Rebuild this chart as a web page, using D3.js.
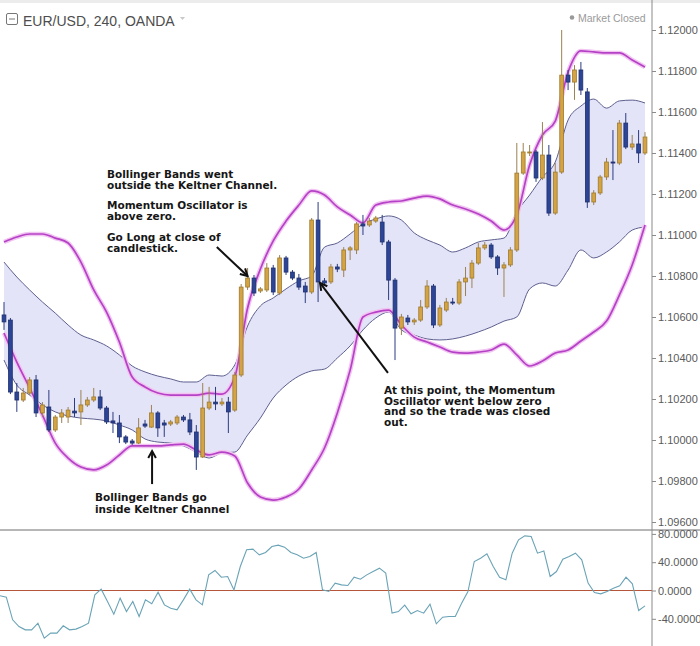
<!DOCTYPE html>
<html><head><meta charset="utf-8">
<script src="https://cdn.jsdelivr.net/npm/d3@7"></script>
<style>body{margin:0;background:#fff}svg{display:block}</style>
</head><body>
<svg id="c" width="700" height="646"></svg>
<script>
// ---- DATA (EUR/USD 240, OANDA) ----
const open = [1.10610,1.10585,1.10234,1.10195,1.10229,1.10293,1.10132,1.10161,1.10049,1.10112,
1.10112,1.10141,1.10137,1.10171,1.10195,1.10210,1.10156,1.10093,1.10083,1.10015,
1.09995,1.09985,1.10078,1.10063,1.10132,1.10083,1.10078,1.10083,1.10112,1.10098,
1.10039,1.09917,1.10156,1.10185,1.10176,1.10185,1.10146,1.10317,1.10746,1.10790,
1.10727,1.10732,1.10839,1.10717,1.10888,1.10819,1.10790,1.10751,1.10722,1.11073,
1.10776,1.10771,1.10844,1.10829,1.10927,1.10927,1.11054,1.11049,1.11068,1.11063,
1.10966,1.10780,1.10546,1.10595,1.10576,1.10585,1.10649,1.10751,1.10561,1.10634,
1.10673,1.10668,1.10771,1.10790,1.10863,1.10937,1.10951,1.10893,1.10839,1.10854,
1.10927,1.11302,1.11400,1.11405,1.11278,1.11390,1.11107,1.11307,1.11780,1.11746,
1.11805,1.11698,1.11161,1.11205,1.11283,1.11356,1.11351,1.11546,1.11429,1.11444,
1.11400];
const high = [1.10673,1.10595,1.10278,1.10254,1.10307,1.10317,1.10185,1.10244,1.10122,1.10151,
1.10161,1.10205,1.10244,1.10210,1.10254,1.10244,1.10166,1.10137,1.10122,1.10024,
1.10005,1.10107,1.10098,1.10171,1.10141,1.10098,1.10098,1.10122,1.10122,1.10132,
1.10073,1.10278,1.10259,1.10259,1.10205,1.10210,1.10332,1.10761,1.10839,1.10805,
1.10746,1.10863,1.10854,1.10902,1.10898,1.10829,1.10810,1.10771,1.11083,1.11161,
1.10790,1.10859,1.10859,1.10941,1.10946,1.11063,1.11098,1.11083,1.11093,1.11098,
1.10976,1.10790,1.10615,1.10610,1.10595,1.10683,1.10780,1.10761,1.10659,1.10693,
1.10693,1.10785,1.10844,1.10878,1.10961,1.10966,1.10961,1.10902,1.10868,1.10941,
1.11449,1.11449,1.11439,1.11415,1.11551,1.11439,1.11351,1.12000,1.11805,1.11829,
1.11844,1.11717,1.11219,1.11293,1.11376,1.11512,1.11561,1.11595,1.11488,1.11512,
1.11502];
const low = [1.10537,1.10224,1.10137,1.10185,1.10219,1.10112,1.10112,1.10039,1.10039,1.10083,
1.10083,1.10112,1.10073,1.10161,1.10185,1.10146,1.10078,1.10034,1.09985,1.09980,
1.09976,1.09980,1.10059,1.10059,1.10015,1.10015,1.10068,1.10073,1.10088,1.10024,
1.09854,1.09912,1.10146,1.10146,1.10166,1.10034,1.10137,1.10307,1.10732,1.10702,
1.10717,1.10722,1.10707,1.10707,1.10805,1.10780,1.10732,1.10668,1.10712,1.10673,
1.10756,1.10761,1.10819,1.10795,1.10878,1.10907,1.11000,1.11039,1.11059,1.10951,
1.10683,1.10390,1.10512,1.10561,1.10561,1.10576,1.10639,1.10546,1.10551,1.10624,
1.10659,1.10659,1.10702,1.10741,1.10854,1.10927,1.10883,1.10805,1.10698,1.10844,
1.10917,1.11293,1.11385,1.11259,1.11268,1.11093,1.11098,1.11298,1.11707,1.11659,
1.11683,1.11132,1.11146,1.11195,1.11268,1.11268,1.11341,1.11419,1.11415,1.11351,
1.11390];
const close = [1.10576,1.10234,1.10195,1.10229,1.10293,1.10132,1.10171,1.10049,1.10112,1.10132,
1.10146,1.10132,1.10171,1.10195,1.10210,1.10156,1.10088,1.10083,1.10015,1.09990,
1.09985,1.10059,1.10068,1.10132,1.10059,1.10073,1.10088,1.10112,1.10098,1.10039,
1.09917,1.10156,1.10185,1.10176,1.10185,1.10137,1.10317,1.10746,1.10790,1.10717,
1.10737,1.10839,1.10722,1.10888,1.10819,1.10790,1.10746,1.10722,1.11073,1.10771,
1.10766,1.10844,1.10834,1.10927,1.10937,1.11054,1.11044,1.11068,1.11083,1.10966,
1.10780,1.10546,1.10600,1.10576,1.10585,1.10649,1.10751,1.10561,1.10644,1.10673,
1.10668,1.10771,1.10790,1.10863,1.10937,1.10951,1.10893,1.10839,1.10854,1.10927,
1.11302,1.11405,1.11405,1.11278,1.11390,1.11107,1.11307,1.11780,1.11746,1.11805,
1.11707,1.11161,1.11205,1.11283,1.11356,1.11351,1.11546,1.11429,1.11444,1.11400,
1.11478];

// band readings, one every second candle (candle index 0,2,4,...,100)
const bbUpper = [1.10966,1.10990,1.11005,1.11005,1.10985,1.10961,1.10868,1.10732,1.10624,1.10478,
1.10307,1.10259,1.10229,1.10219,1.10219,1.10219,1.10229,1.10224,1.10307,1.10644,
1.10834,1.10971,1.11068,1.11146,1.11215,1.11195,1.11137,1.11098,1.11059,1.11146,
1.11161,1.11166,1.11180,1.11190,1.11176,1.11146,1.11127,1.11102,1.11068,1.11024,
1.11098,1.11341,1.11488,1.11556,1.11795,1.11898,1.11893,1.11888,1.11888,1.11854,
1.11819];
const bbLower = [1.10522,1.10380,1.10254,1.10122,1.09985,1.09912,1.09868,1.09854,1.09878,1.09927,
1.09971,1.09971,1.09971,1.09976,1.09980,1.09951,1.09927,1.09941,1.09922,1.09790,
1.09722,1.09707,1.09722,1.09761,1.09854,1.09961,1.10132,1.10341,1.10600,1.10624,
1.10634,1.10561,1.10502,1.10478,1.10454,1.10429,1.10424,1.10429,1.10439,1.10468,
1.10415,1.10361,1.10385,1.10424,1.10439,1.10483,1.10527,1.10580,1.10707,1.10854,
1.11049];
const kcUpper = [1.10868,1.10795,1.10732,1.10673,1.10619,1.10561,1.10512,1.10488,1.10459,1.10415,
1.10361,1.10332,1.10312,1.10298,1.10283,1.10283,1.10317,1.10312,1.10366,1.10556,
1.10654,1.10693,1.10737,1.10776,1.10800,1.10941,1.10961,1.11005,1.11054,1.11078,
1.11093,1.11073,1.11010,1.10976,1.10951,1.10917,1.10937,1.10966,1.10976,1.10985,
1.11112,1.11195,1.11283,1.11356,1.11561,1.11629,1.11663,1.11619,1.11654,1.11658,
1.11644];
const kcLower = [1.10390,1.10268,1.10219,1.10171,1.10137,1.10117,1.10107,1.10102,1.10093,1.10073,
1.10049,1.10005,1.09990,1.09985,1.09971,1.09941,1.09912,1.09937,1.09941,1.10024,
1.10107,1.10205,1.10268,1.10312,1.10337,1.10346,1.10400,1.10459,1.10537,1.10595,
1.10624,1.10537,1.10512,1.10493,1.10488,1.10493,1.10507,1.10527,1.10551,1.10580,
1.10600,1.10737,1.10766,1.10751,1.10829,1.10927,1.10888,1.10917,1.10966,1.11024,
1.11039];

const momentum = [-7.5,-9.4,-41.4,-50.9,-55.6,-55.6,-46.2,-67.4,-60.3,-60.3,
-49.9,-55.6,-54.6,-50.9,-46.2,-6.1,1.9,-15.5,-33.4,-10.8,
-29.7,-15.5,-36.7,-13.2,-18.8,-2.4,-20.3,-25.0,-27.3,-13.2,
1.9,-13.2,-20.3,22.1,28.3,18.8,19.8,0.9,33.9,57.5,
58.4,50.4,53.7,62.2,64.1,61.2,53.7,50.4,45.7,48.0,
53.7,0.9,-1.4,10.4,8.0,7.1,18.8,16.0,22.1,26.8,
31.6,24.5,-32.0,-29.7,-20.7,-33.0,-28.3,-32.0,-19.3,-47.1,
-37.7,-36.7,-36.7,-17.9,-1.4,41.0,45.7,51.8,33.9,18.8,
15.1,52.8,71.6,77.2,76.3,52.8,56.0,19.8,26.8,44.3,
48.0,52.8,43.3,10.4,-2.8,-4.7,-1.4,3.3,6.6,18.8,
9.4,-28.3,-21.7];

const priceTicks = [1.096,1.098,1.100,1.102,1.104,1.106,1.108,1.110,1.112,1.114,1.116,1.118,1.120];
const momTicks = [80,40,0,-40];

const notes = [
  {i:16.07, p:1.11278, dy:[0,11,31,42,63,74], lines:["Bollinger Bands went","outside the Keltner Channel.","Momentum Oscillator is","above zero.","Go Long at close of","candlestick."]},
  {i:59.28, p:1.10224, dy:[0,10.5,21,31.5], lines:["At this point, the Momentum","Oscillator went below zero","and so the trade was closed","out."]},
  {i:14.2, p:1.09702, dy:[0,11.5], lines:["Bollinger Bands go","inside Keltner Channel"]}
];
const arrows = [
  {i0:33.2, p0:1.10941, i1:38.0, p1:1.10800},
  {i0:59.9, p0:1.10327, i1:49.3, p1:1.10766},
  {i0:23.1, p0:1.09785, i1:23.1, p1:1.09946}
];

// ---- LAYOUT ----
const W = 700, H = 646, axisX = 652, sepY = 530;
const svg = d3.select('#c');
const x = d3.scaleLinear().domain([0, open.length - 1]).range([4, 645]);
const y = d3.scaleLinear().domain([1.096, 1.12]).range([522, 30]);
const ym = d3.scaleLinear().domain([-40, 80]).range([618.8, 533.9]);
const xm = d3.scaleLinear().domain([0, momentum.length - 1]).range([0, 645]);
const bandIdx = d3.range(0, open.length, 2);

svg.append('rect').attr('width', W).attr('height', H).attr('fill', '#fff');
svg.append('rect').attr('width', W).attr('height', 3).attr('fill', '#ececec');

const defs = svg.append('defs');
defs.append('clipPath').attr('id', 'cm').append('rect').attr('x', 0).attr('y', 3).attr('width', axisX).attr('height', sepY - 3);
defs.append('clipPath').attr('id', 'cl').append('rect').attr('x', 0).attr('y', sepY + 1).attr('width', axisX).attr('height', H - sepY - 1);

const main = svg.append('g').attr('clip-path', 'url(#cm)');

// Keltner channel fill and lines
main.append('path').datum(bandIdx)
  .attr('d', d3.area().x(d => x(d)).y0((d, k) => y(kcLower[k])).y1((d, k) => y(kcUpper[k])).curve(d3.curveMonotoneX))
  .attr('fill', '#e4e4f8');
const kLine = arr => d3.line().x(d => x(d)).y((d, k) => y(arr[k])).curve(d3.curveMonotoneX);
[kcUpper, kcLower].forEach(arr => {
  main.append('path').datum(bandIdx).attr('d', kLine(arr)).attr('fill', 'none')
    .attr('stroke', '#5d5f8e').attr('stroke-width', 1);
});
// Bollinger bands
[bbUpper, bbLower].forEach(arr => {
  main.append('path').datum(bandIdx).attr('d', kLine(arr)).attr('fill', 'none')
    .attr('stroke', '#f2c4f2').attr('stroke-width', 4.5).attr('stroke-linejoin', 'round');
  main.append('path').datum(bandIdx).attr('d', kLine(arr)).attr('fill', 'none')
    .attr('stroke', '#b542c6').attr('stroke-width', 1.7).attr('stroke-linejoin', 'round');
});

// candles
const bw = 3.8;
const up = i => close[i] >= open[i];
const cg = main.append('g').selectAll('g').data(d3.range(open.length)).join('g');
cg.append('line')
  .attr('x1', i => x(i)).attr('x2', i => x(i))
  .attr('y1', i => y(high[i])).attr('y2', i => y(low[i]))
  .attr('stroke', i => up(i) ? '#9b8253' : '#2b3c80').attr('stroke-width', 1);
cg.append('rect')
  .attr('x', i => x(i) - bw / 2).attr('width', bw)
  .attr('y', i => y(Math.max(open[i], close[i])))
  .attr('height', i => Math.max(1, Math.abs(y(open[i]) - y(close[i]))))
  .attr('fill', i => up(i) ? '#d3a344' : '#2c4597')
  .attr('stroke', i => up(i) ? '#9e7a2e' : '#1e2f6d').attr('stroke-width', 0.8);

// ---- Momentum pane ----
const low_ = svg.append('g').attr('clip-path', 'url(#cl)');
low_.append('line').attr('x1', 0).attr('x2', axisX).attr('y1', ym(0)).attr('y2', ym(0))
  .attr('stroke', '#b5563a').attr('stroke-width', 1.2);
low_.append('path').datum(momentum)
  .attr('d', d3.line().x((d, k) => xm(k)).y(d => ym(d)))
  .attr('fill', 'none').attr('stroke', '#6aa3b6').attr('stroke-width', 1.1);

// separators & axes
svg.append('line').attr('x1', 0).attr('x2', W).attr('y1', sepY).attr('y2', sepY).attr('stroke', '#6e6e6e').attr('stroke-width', 1);
svg.append('line').attr('x1', axisX).attr('x2', axisX).attr('y1', 0).attr('y2', H).attr('stroke', '#8a8a8a').attr('stroke-width', 1);

const styleAxis = g => {
  g.select('.domain').remove();
  g.selectAll('line').attr('stroke', '#8a8a8a');
  g.selectAll('text').attr('fill', '#5a5a5a').style('font-family', '"Liberation Sans", Arial, sans-serif').style('font-size', '11px');
};
svg.append('g').attr('transform', `translate(${axisX},0)`)
  .call(d3.axisRight(y).tickValues(priceTicks).tickFormat(d => d.toFixed(5)).tickSize(4).tickPadding(2))
  .call(styleAxis);
svg.append('g').attr('transform', `translate(${axisX},0)`)
  .call(d3.axisRight(ym).tickValues(momTicks).tickFormat(d => d.toFixed(4)).tickSize(4).tickPadding(2))
  .call(styleAxis);

// ---- title ----
const tg = svg.append('g');
tg.append('rect').attr('x', 6.5).attr('y', 13.5).attr('width', 11).attr('height', 11).attr('rx', 1.5)
  .attr('fill', 'none').attr('stroke', '#777').attr('stroke-width', 1);
tg.append('line').attr('x1', 9).attr('x2', 15).attr('y1', 19).attr('y2', 19).attr('stroke', '#777').attr('stroke-width', 1);
tg.append('text').attr('x', 23).attr('y', 26).text('EUR/USD, 240, OANDA')
  .style('font-family', '"Liberation Sans", Arial, sans-serif').style('font-size', '14px').attr('fill', '#4d4d4d');
tg.append('path').attr('d', 'M180,17 L185,17 L182.5,20 Z').attr('fill', '#c8c8c8');
tg.append('circle').attr('cx', 572).attr('cy', 17.5).attr('r', 2.3).attr('fill', '#9a9a9a');
tg.append('text').attr('x', 578).attr('y', 21.5).text('Market Closed')
  .style('font-family', '"Liberation Sans", Arial, sans-serif').style('font-size', '10.5px').attr('fill', '#9a9a9a');

// ---- annotations ----
const ag = svg.append('g');
notes.forEach(n => {
  const t = ag.append('text').attr('x', x(n.i)).attr('y', y(n.p))
    .style('font-family', '"DejaVu Sans", Verdana, sans-serif').style('font-weight', 'bold').style('font-size', '10.5px')
    .attr('fill', '#161616');
  n.lines.forEach((s, k) => t.append('tspan').attr('x', x(n.i)).attr('y', y(n.p) + n.dy[k]).text(s));
});
arrows.forEach(a => {
  const X0 = x(a.i0), Y0 = y(a.p0), X1 = x(a.i1), Y1 = y(a.p1);
  ag.append('line').attr('x1', X0).attr('y1', Y0).attr('x2', X1).attr('y2', Y1)
    .attr('stroke', '#111').attr('stroke-width', 2);
  const ang = Math.atan2(Y1 - Y0, X1 - X0), L = 8, s = 0.5;
  const p = d3.path();
  p.moveTo(X1 - L * Math.cos(ang - s), Y1 - L * Math.sin(ang - s));
  p.lineTo(X1, Y1);
  p.lineTo(X1 - L * Math.cos(ang + s), Y1 - L * Math.sin(ang + s));
  ag.append('path').attr('d', p.toString()).attr('fill', 'none').attr('stroke', '#111').attr('stroke-width', 2);
});
</script>
</body></html>
